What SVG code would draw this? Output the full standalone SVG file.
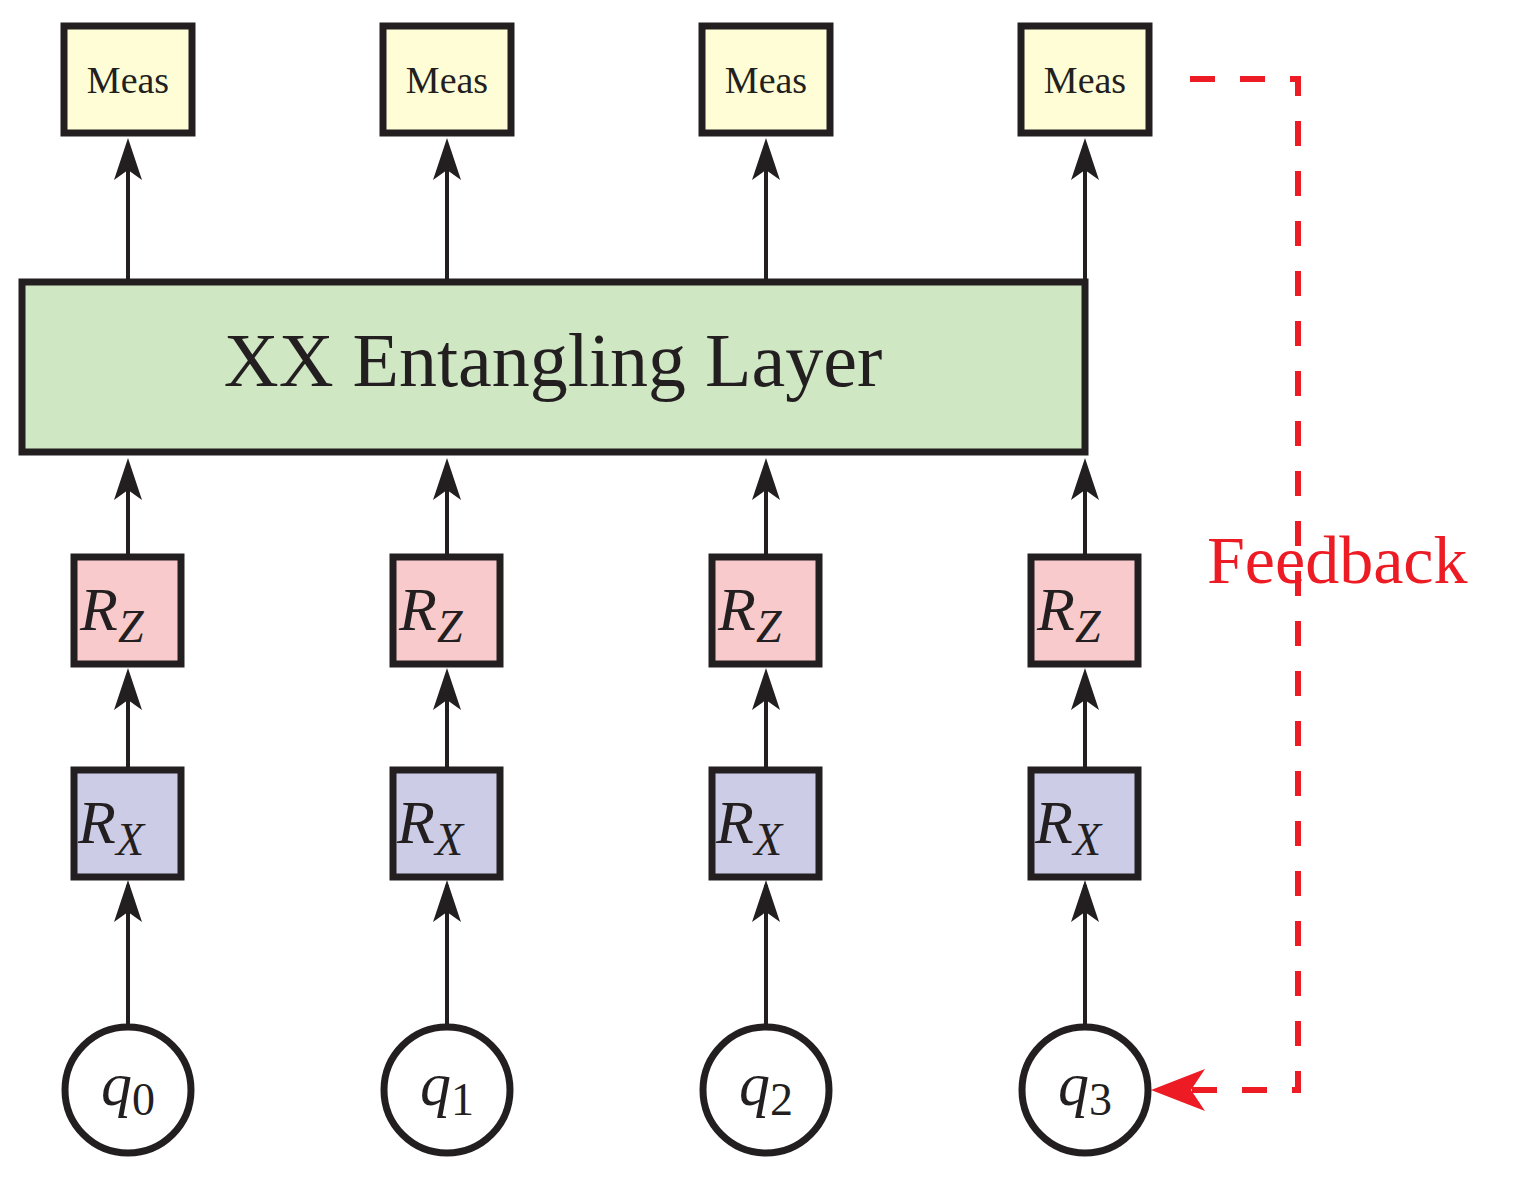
<svg xmlns="http://www.w3.org/2000/svg" width="1531" height="1185" viewBox="0 0 1531 1185">
<style>
.b{stroke:#231f20;stroke-width:7}
.t{font-family:"Liberation Serif",serif;fill:#231f20}
.i{font-style:italic}
.w{stroke:#231f20;stroke-width:4;fill:none}
</style>
<defs>
<path id="ah" d="M0,0 L14,42 L0,32 L-14,42 Z" fill="#231f20"/>
</defs>
<rect width="1531" height="1185" fill="#fff"/>
<g id="connectors">
<g class="w">
<path d="M128,1025V885M128,770V680M128,557V470M128,280V150"/>
<path d="M447,1025V885M447,770V680M447,557V470M447,280V150"/>
<path d="M766,1025V885M766,770V680M766,557V470M766,280V150"/>
<path d="M1085,1025V885M1085,770V680M1085,557V470M1085,280V150"/>
</g>
<g>
<use href="#ah" x="128" y="880"/><use href="#ah" x="128" y="668"/><use href="#ah" x="128" y="458"/><use href="#ah" x="128" y="138"/>
<use href="#ah" x="447" y="880"/><use href="#ah" x="447" y="668"/><use href="#ah" x="447" y="458"/><use href="#ah" x="447" y="138"/>
<use href="#ah" x="766" y="880"/><use href="#ah" x="766" y="668"/><use href="#ah" x="766" y="458"/><use href="#ah" x="766" y="138"/>
<use href="#ah" x="1085" y="880"/><use href="#ah" x="1085" y="668"/><use href="#ah" x="1085" y="458"/><use href="#ah" x="1085" y="138"/>
</g>
<path d="M1190,79H1298V1090H1175" fill="none" stroke="#ed1c24" stroke-width="6" stroke-dasharray="25,25"/>
<path d="M1151,1090 L1205,1069 L1191,1090 L1205,1111 Z" fill="#ed1c24"/>
<text x="1207" y="583" font-family="Liberation Serif,serif" font-size="68" fill="#ed1c24">Feedback</text>
</g>
<g id="layer"><rect x="22" y="282" width="1063" height="170" fill="#d0e7c4" class="b"/><text x="553" y="386" text-anchor="middle" class="t" font-size="76">XX Entangling Layer</text></g>
<g id="meas0"><rect x="64" y="26" width="128" height="107" fill="#fffdd6" class="b"/><text x="128" y="93" text-anchor="middle" class="t" font-size="38">Meas</text></g>
<g id="meas1"><rect x="383" y="26" width="128" height="107" fill="#fffdd6" class="b"/><text x="447" y="93" text-anchor="middle" class="t" font-size="38">Meas</text></g>
<g id="meas2"><rect x="702" y="26" width="128" height="107" fill="#fffdd6" class="b"/><text x="766" y="93" text-anchor="middle" class="t" font-size="38">Meas</text></g>
<g id="meas3"><rect x="1021" y="26" width="128" height="107" fill="#fffdd6" class="b"/><text x="1085" y="93" text-anchor="middle" class="t" font-size="38">Meas</text></g>
<g id="rz0"><rect x="74" y="557" width="107" height="107" fill="#f8cacc" class="b"/><text x="80" y="630" class="t i" font-size="62">R<tspan font-size="46" dy="12">Z</tspan></text></g>
<g id="rz1"><rect x="393" y="557" width="107" height="107" fill="#f8cacc" class="b"/><text x="399" y="630" class="t i" font-size="62">R<tspan font-size="46" dy="12">Z</tspan></text></g>
<g id="rz2"><rect x="712" y="557" width="107" height="107" fill="#f8cacc" class="b"/><text x="718" y="630" class="t i" font-size="62">R<tspan font-size="46" dy="12">Z</tspan></text></g>
<g id="rz3"><rect x="1031" y="557" width="107" height="107" fill="#f8cacc" class="b"/><text x="1037" y="630" class="t i" font-size="62">R<tspan font-size="46" dy="12">Z</tspan></text></g>
<g id="rx0"><rect x="74" y="770" width="107" height="107" fill="#cccce6" class="b"/><text x="78" y="843" class="t i" font-size="62">R<tspan font-size="46" dy="12">X</tspan></text></g>
<g id="rx1"><rect x="393" y="770" width="107" height="107" fill="#cccce6" class="b"/><text x="397" y="843" class="t i" font-size="62">R<tspan font-size="46" dy="12">X</tspan></text></g>
<g id="rx2"><rect x="712" y="770" width="107" height="107" fill="#cccce6" class="b"/><text x="716" y="843" class="t i" font-size="62">R<tspan font-size="46" dy="12">X</tspan></text></g>
<g id="rx3"><rect x="1031" y="770" width="107" height="107" fill="#cccce6" class="b"/><text x="1035" y="843" class="t i" font-size="62">R<tspan font-size="46" dy="12">X</tspan></text></g>
<g id="q0"><circle cx="128" cy="1090" r="63" fill="#fff" class="b"/><text x="128" y="1105" text-anchor="middle" class="t" font-size="62"><tspan class="i">q</tspan><tspan font-size="46" dy="10">0</tspan></text></g>
<g id="q1"><circle cx="447" cy="1090" r="63" fill="#fff" class="b"/><text x="447" y="1105" text-anchor="middle" class="t" font-size="62"><tspan class="i">q</tspan><tspan font-size="46" dy="10">1</tspan></text></g>
<g id="q2"><circle cx="766" cy="1090" r="63" fill="#fff" class="b"/><text x="766" y="1105" text-anchor="middle" class="t" font-size="62"><tspan class="i">q</tspan><tspan font-size="46" dy="10">2</tspan></text></g>
<g id="q3"><circle cx="1085" cy="1090" r="63" fill="#fff" class="b"/><text x="1085" y="1105" text-anchor="middle" class="t" font-size="62"><tspan class="i">q</tspan><tspan font-size="46" dy="10">3</tspan></text></g>
</svg>
